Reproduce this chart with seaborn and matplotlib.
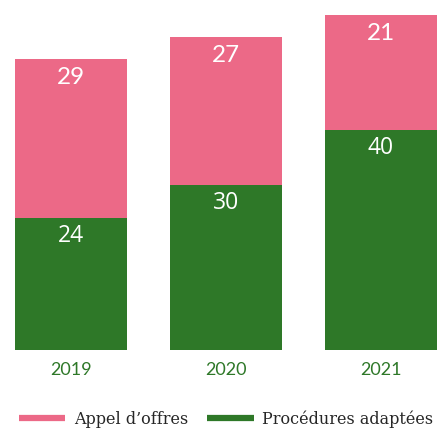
import matplotlib
matplotlib.use("Agg")
import matplotlib.pyplot as plt
from matplotlib.lines import Line2D
import seaborn as sns
import pandas as pd

years = ["2019", "2020", "2021"]
procedures_adaptees = [24, 30, 40]
appel_offres = [29, 27, 21]

PINK = "#EC6987"
GREEN = "#2E7828"

sns.set_style("white")

df = pd.DataFrame({
    "year": years,
    "green": procedures_adaptees,
    "pink": appel_offres,
})
df["total"] = df["green"] + df["pink"]

fig = plt.figure(figsize=(4.38, 4.29), dpi=100)
W, H = 438, 429
ax = fig.add_axes([15 / W, 79 / H, 422 / W, 350 / H])

width = 112 / 155
sns.barplot(data=df, x="year", y="total", color=PINK, width=width,
            saturation=1, ax=ax, linewidth=0)
sns.barplot(data=df, x="year", y="green", color=GREEN, width=width,
            saturation=1, ax=ax, linewidth=0)

ax.set_xlim(-width / 2, 2 + width / 2)
ax.set_ylim(0, 350 / 5.49)

for i, row in df.iterrows():
    ax.annotate(str(row["pink"]), (i, row["total"]), xytext=(0, -13.5),
                textcoords="offset points", ha="center", va="center",
                color="white", fontsize=17.5, family="Lato")
    ax.annotate(str(row["green"]), (i, row["green"]), xytext=(0, -12.5),
                textcoords="offset points", ha="center", va="center",
                color="white", fontsize=16.5, family="Open Sans")

for s in ax.spines.values():
    s.set_visible(False)
ax.set_yticks([])
ax.set_xlabel("")
ax.set_ylabel("")
ax.tick_params(axis="x", length=0, pad=8.5, labelcolor=GREEN, labelsize=13)
for lbl in ax.get_xticklabels():
    lbl.set_family("Lato")

handles = [Line2D([], [], color=PINK, lw=4.5, solid_capstyle="butt"),
           Line2D([], [], color=GREEN, lw=4.5, solid_capstyle="butt")]
fig.legend(handles, ["Appel d’offres", "Procédures adaptées"],
           loc="center left", bbox_to_anchor=(6 / W, 1 - 419 / H),
           ncol=2, frameon=False, handlelength=2.9, handletextpad=0.55,
           columnspacing=1.2, borderpad=0.3,
           prop={"family": "DejaVu Serif", "size": 11.5})

fig.savefig("out.png", dpi=100)
